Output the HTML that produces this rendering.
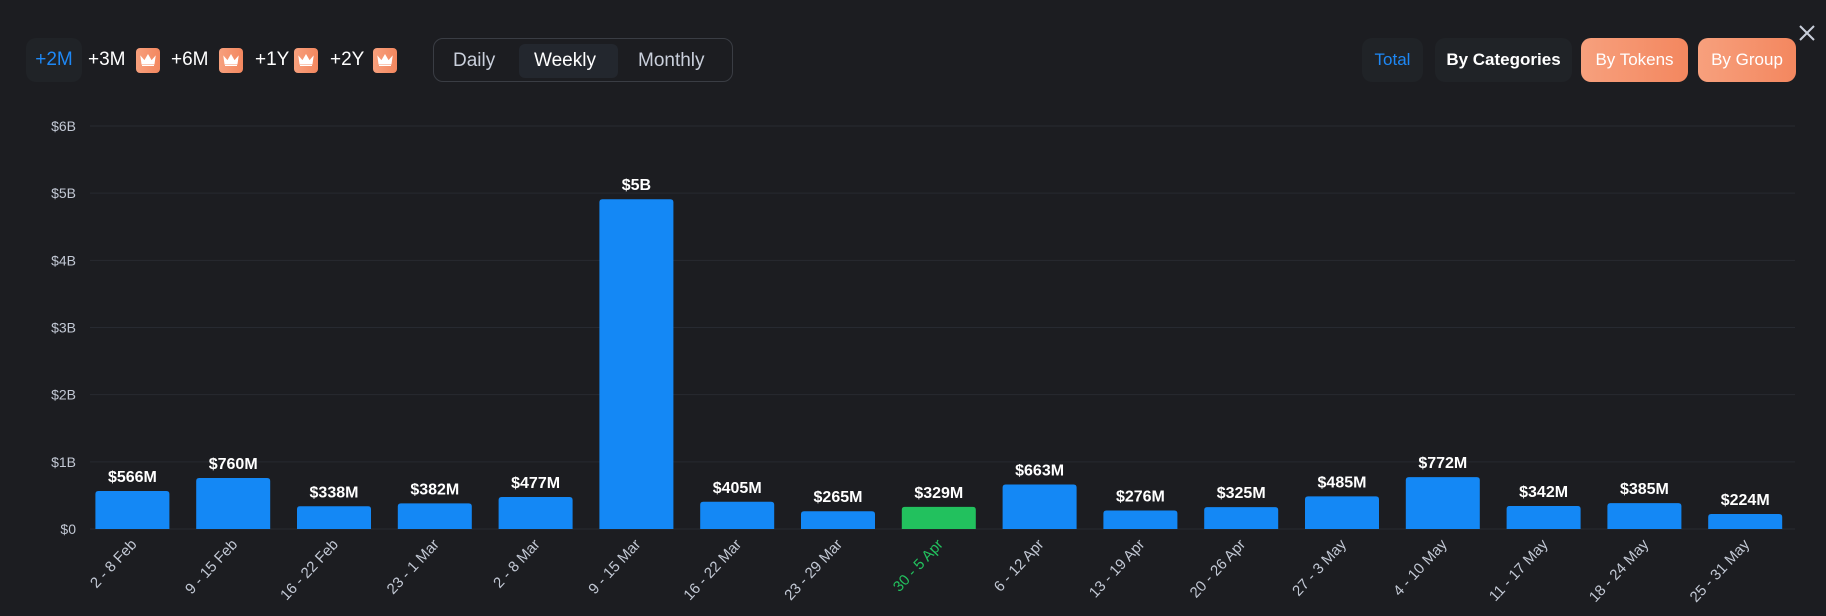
<!DOCTYPE html>
<html><head><meta charset="utf-8"><style>
body{margin:0;width:1826px;height:616px;background:#1c1d21;font-family:"Liberation Sans",sans-serif;overflow:hidden;position:relative}
.btn{position:absolute;top:38px;height:44px;border-radius:10px;display:flex;align-items:center;justify-content:center;font-size:18px;color:#fff}
.rng{position:absolute;top:49px;font-size:19px;color:#fff}
.crown{position:absolute;top:48px;width:24px;height:25px;border-radius:4px;background:linear-gradient(90deg,#f7a07d,#f3875f)}
.crown svg{position:absolute;left:4px;top:6px}
.seg{position:absolute;top:50px;font-size:19px;color:#c9cfdb}
</style></head><body>
<div class="btn" style="left:26px;width:56px;background:#202327;color:#1e88f5;font-size:19px">+2M</div>
<div class="rng" style="left:88px">+3M</div>
<div class="crown" style="left:136px"><svg width="16" height="13"><path d="M1 3L4.5 7L8 1L11.5 7L15 3L14 10H2Z M2 11.5H14" fill="#fff" stroke="#fff" stroke-width="1"/></svg></div>
<div class="rng" style="left:171px">+6M</div>
<div class="crown" style="left:219px"><svg width="16" height="13"><path d="M1 3L4.5 7L8 1L11.5 7L15 3L14 10H2Z M2 11.5H14" fill="#fff" stroke="#fff" stroke-width="1"/></svg></div>
<div class="rng" style="left:255px">+1Y</div>
<div class="crown" style="left:294px"><svg width="16" height="13"><path d="M1 3L4.5 7L8 1L11.5 7L15 3L14 10H2Z M2 11.5H14" fill="#fff" stroke="#fff" stroke-width="1"/></svg></div>
<div class="rng" style="left:330px">+2Y</div>
<div class="crown" style="left:373px"><svg width="16" height="13"><path d="M1 3L4.5 7L8 1L11.5 7L15 3L14 10H2Z M2 11.5H14" fill="#fff" stroke="#fff" stroke-width="1"/></svg></div>
<div style="position:absolute;left:433px;top:38px;width:300px;height:44px;border:1px solid #3a3d44;border-radius:10px;box-sizing:border-box"></div>
<div style="position:absolute;left:519px;top:44px;width:99px;height:34px;background:#23272e;border-radius:6px"></div>
<div class="seg" style="left:453px">Daily</div>
<div class="seg" style="left:534px;color:#fff">Weekly</div>
<div class="seg" style="left:638px">Monthly</div>
<div class="btn" style="left:1362px;width:61px;background:#202327;color:#1e88f5;font-size:17px">Total</div>
<div class="btn" style="left:1435px;width:137px;background:#202327;font-weight:bold;font-size:17px">By Categories</div>
<div class="btn" style="left:1581px;width:107px;background:linear-gradient(90deg,#f7a07d,#f3875f);font-size:17px">By Tokens</div>
<div class="btn" style="left:1698px;width:98px;background:linear-gradient(90deg,#f7a07d,#f3875f);font-size:17px">By Group</div>
<svg style="position:absolute;left:1798px;top:24px" width="18" height="18"><path d="M2 2L16 16M16 2L2 16" stroke="#c9cfdb" stroke-width="2"/></svg>
<svg id="chart" style="position:absolute;left:0;top:0" width="1826" height="616"></svg>
<script>
const categories=["2 - 8 Feb","9 - 15 Feb","16 - 22 Feb","23 - 1 Mar","2 - 8 Mar","9 - 15 Mar","16 - 22 Mar","23 - 29 Mar","30 - 5 Apr","6 - 12 Apr","13 - 19 Apr","20 - 26 Apr","27 - 3 May","4 - 10 May","11 - 17 May","18 - 24 May","25 - 31 May"];
const values=[566,760,338,382,477,4910,405,265,329,663,276,325,485,772,342,385,224];
const tickValues=[0,1000,2000,3000,4000,5000,6000];
const tickLabels=["$0","$1B","$2B","$3B","$4B","$5B","$6B"];
const highlightIndex=8;
const svg=document.getElementById('chart');
const NS='http://www.w3.org/2000/svg';
const y0=529,yTop=126,yMax=6000,x0=82,step=100.8,bw=74;
const yS=v=>y0-(v/yMax)*(y0-yTop);
const xC=i=>x0+step*(i+0.5);
function mk(t,a){const e=document.createElementNS(NS,t);for(const k in a)e.setAttribute(k,a[k]);svg.appendChild(e);return e;}
tickValues.forEach((v,i)=>{
 const l=mk('line',{x1:90,x2:1795,y1:yS(v),y2:yS(v),stroke:'#272a31','stroke-width':1});
 
 
 const t=mk('text',{x:76,y:yS(v)+5,'text-anchor':'end',fill:'#c2c8d4','font-size':14});
 t.textContent=tickLabels[i];
 
 
});
const fmt=v=>v>=1000?'$'+Math.round(v/1000)+'B':'$'+v+'M';
values.forEach((v,i)=>{
 const c=xC(i),h=i===highlightIndex;
 const r=mk('path',{d:`M${c-bw/2},${y0} V${yS(v)+3} Q${c-bw/2},${yS(v)} ${c-bw/2+3},${yS(v)} H${c+bw/2-3} Q${c+bw/2},${yS(v)} ${c+bw/2},${yS(v)+3} V${y0} Z`,fill:h?'#22c15e':'#1488f5'});
 
 
 const t=mk('text',{x:c,y:yS(v)-9,'text-anchor':'middle',fill:'#fff','font-size':16,'font-weight':'bold'});
 t.textContent=fmt(v);
 
 
 const lx=c+5,ly=545;
 const xl=mk('text',{x:lx,y:ly,'text-anchor':'end',fill:h?'#22c15e':'#c2c8d4','font-size':15,transform:`rotate(-47 ${lx} ${ly})`});
 xl.textContent=categories[i];
 
 
});
</script>
</body></html>
